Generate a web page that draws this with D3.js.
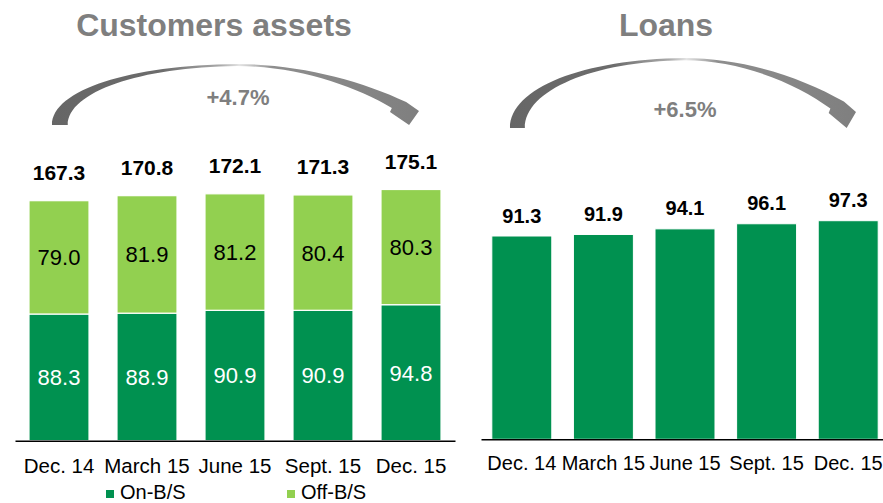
<!DOCTYPE html>
<html>
<head>
<meta charset="utf-8">
<script src="https://cdn.jsdelivr.net/npm/d3@7"></script>
<style>
  body { margin: 0; background: #fff; }
  svg { display: block; font-family: "Liberation Sans", Arial, sans-serif; }
</style>
</head>
<body>
<svg id="chart" width="883" height="503"></svg>
<script>
/********************************************************
 ********************* Data *****************************
 ********************************************************/
var categories = ["Dec. 14", "March 15", "June 15", "Sept. 15", "Dec. 15"];
var onBS = [88.3, 88.9, 90.9, 90.9, 94.8];
var offBS = [79.0, 81.9, 81.2, 80.4, 80.3];
var assetTotals = [167.3, 170.8, 172.1, 171.3, 175.1];
var loans = [91.3, 91.9, 94.1, 96.1, 97.3];
var seriesNames = ["On-B/S", "Off-B/S"];
var growthLabels = ["+4.7%", "+6.5%"];

var darkGreen = "#009150";
var lightGreen = "#92d050";
var grey = "#7f7f7f";

var svg = d3.select("#chart");

/********************************************************
 ********************* Arrow gradient *******************
 ********************************************************/
var grad = svg.append("defs").append("linearGradient")
  .attr("id", "arrowGrad")
  .attr("x1", "0").attr("x2", "1").attr("y1", "0").attr("y2", "0");
[[0, "#666"], [0.3, "#6c6c6c"], [0.46, "#aaa"], [0.51, "#e4e4e4"], [0.6, "#8e8e8e"], [1, "#7f7f7f"]]
  .forEach(function(s) {
    grad.append("stop").attr("offset", s[0]).attr("stop-color", s[1]);
  });

// curved arrow, drawn in unit space then stretched into the box
function arrowPath(x0, x1, yTop, yBase) {
  var sx = d3.scaleLinear().domain([0, 1]).range([x0, x1]);
  var sy = d3.scaleLinear().domain([0, 1]).range([yTop, yBase]);
  function p(u, v) { return sx(u) + "," + sy(v); }
  return "M" + p(0, 1) +
    "C" + p(0, 0.426) + " " + p(0.2125, 0.016) + " " + p(0.504, 0) +
    "C" + p(0.668, 0) + " " + p(0.839, 0.262) + " " + p(0.965, 0.623) +
    "L" + p(1, 0.77) +
    "L" + p(0.973, 1) +
    "L" + p(0.921, 0.787) +
    "L" + p(0.926, 0.721) +
    "C" + p(0.826, 0.361) + " " + p(0.668, 0.033) + " " + p(0.504, 0.033) +
    "C" + p(0.24, 0.049) + " " + p(0.043, 0.459) + " " + p(0.043, 1) +
    "Z";
}

/********************************************************
 ********************* Customers assets *****************
 ********************************************************/
var xL = d3.scaleBand().domain(categories).range([15, 455])
  .paddingInner(0.318).paddingOuter(0.159);
var yL = d3.scaleLinear().domain([0, 175.1]).range([440.7, 189.5]);

var assetRows = categories.map(function(c, i) {
  return { cat: c, "On-B/S": onBS[i], "Off-B/S": offBS[i], total: assetTotals[i] };
});
var stacked = d3.stack().keys(seriesNames)(assetRows);
var colorL = d3.scaleOrdinal().domain(seriesNames).range([darkGreen, lightGreen]);

var gL = svg.append("g");

gL.append("text")
  .attr("x", 214).attr("y", 36)
  .attr("text-anchor", "middle")
  .attr("font-size", 32).attr("font-weight", "bold")
  .attr("fill", grey)
  .text("Customers assets");

gL.append("path")
  .attr("d", arrowPath(52, 419, 64, 125))
  .attr("fill", "url(#arrowGrad)");

gL.append("text")
  .attr("x", 238).attr("y", 105)
  .attr("text-anchor", "middle")
  .attr("font-size", 22).attr("font-weight", "bold")
  .attr("fill", grey)
  .text(growthLabels[0]);

var layer = gL.selectAll(".layer")
  .data(stacked)
  .enter().append("g")
  .attr("class", "layer")
  .attr("fill", function(d) { return colorL(d.key); });

layer.selectAll("rect")
  .data(function(d) { return d; })
  .enter().append("rect")
  .attr("x", function(d) { return xL(d.data.cat); })
  .attr("y", function(d) { return yL(d[1]); })
  .attr("width", xL.bandwidth())
  .attr("height", function(d) { return yL(d[0]) - yL(d[1]); })
  .attr("stroke", "#fff")
  .attr("stroke-width", 1.2);

layer.selectAll(".seg")
  .data(function(d) { return d.map(function(v) { v.key = d.key; return v; }); })
  .enter().append("text")
  .attr("class", "seg")
  .attr("x", function(d) { return xL(d.data.cat) + xL.bandwidth() / 2; })
  .attr("y", function(d) { return (yL(d[0]) + yL(d[1])) / 2 + 8; })
  .attr("text-anchor", "middle")
  .attr("font-size", 22)
  .attr("fill", function(d) { return d.key == "On-B/S" ? "#fff" : "#000"; })
  .text(function(d) { return (d[1] - d[0]).toFixed(1); });

gL.selectAll(".total")
  .data(assetRows)
  .enter().append("text")
  .attr("class", "total")
  .attr("x", function(d) { return xL(d.cat) + xL.bandwidth() / 2; })
  .attr("y", function(d) { return yL(d.total) - 21; })
  .attr("text-anchor", "middle")
  .attr("font-size", 21).attr("font-weight", "bold")
  .attr("fill", "#000")
  .text(function(d) { return d.total.toFixed(1); });

var axisL = gL.append("g")
  .attr("transform", "translate(0,440.7)")
  .call(d3.axisBottom(xL).tickSize(0).tickPadding(0));
axisL.select(".domain").attr("stroke", "#000").attr("stroke-width", 1.5);
axisL.selectAll("text")
  .attr("y", 32).attr("dy", null)
  .attr("font-size", 20.5)
  .attr("font-family", "Liberation Sans, Arial, sans-serif")
  .attr("fill", "#000");

// legend
var legend = gL.selectAll(".legend")
  .data(seriesNames)
  .enter().append("g")
  .attr("class", "legend")
  .attr("transform", function(d, i) { return "translate(" + (106 + i * 181) + ",0)"; });
legend.append("rect")
  .attr("x", 0).attr("y", 490)
  .attr("width", 8).attr("height", 8)
  .attr("fill", function(d) { return colorL(d); });
legend.append("text")
  .attr("x", 14).attr("y", 499)
  .attr("font-size", 20)
  .attr("fill", "#000")
  .text(function(d) { return d; });

/********************************************************
 ********************* Loans ****************************
 ********************************************************/
var xR = d3.scaleBand().domain(categories).range([481, 889])
  .paddingInner(0.265).paddingOuter(0.1325);
var yR = d3.scaleLinear().domain([11.6, 97.3]).range([439.3, 220.7]);

var gR = svg.append("g");

gR.append("text")
  .attr("x", 666).attr("y", 36)
  .attr("text-anchor", "middle")
  .attr("font-size", 32).attr("font-weight", "bold")
  .attr("fill", grey)
  .text("Loans");

gR.append("path")
  .attr("d", arrowPath(510, 856, 58, 128))
  .attr("fill", "url(#arrowGrad)");

gR.append("text")
  .attr("x", 685).attr("y", 117)
  .attr("text-anchor", "middle")
  .attr("font-size", 22).attr("font-weight", "bold")
  .attr("fill", grey)
  .text(growthLabels[1]);

gR.selectAll(".bar")
  .data(loans)
  .enter().append("rect")
  .attr("class", "bar")
  .attr("x", function(d, i) { return xR(categories[i]); })
  .attr("y", function(d) { return yR(d); })
  .attr("width", xR.bandwidth())
  .attr("height", function(d) { return yR.range()[0] - yR(d); })
  .attr("fill", darkGreen)
  .attr("stroke", "#fff")
  .attr("stroke-width", 1);

gR.selectAll(".val")
  .data(loans)
  .enter().append("text")
  .attr("class", "val")
  .attr("x", function(d, i) { return xR(categories[i]) + xR.bandwidth() / 2; })
  .attr("y", function(d) { return yR(d) - 13.5; })
  .attr("text-anchor", "middle")
  .attr("font-size", 20).attr("font-weight", "bold")
  .attr("fill", "#000")
  .text(function(d) { return d.toFixed(1); });

var axisR = gR.append("g")
  .attr("transform", "translate(0,439.3)")
  .call(d3.axisBottom(xR).tickSize(0).tickPadding(0));
axisR.select(".domain").attr("stroke", "#000").attr("stroke-width", 1.5);
axisR.selectAll("text")
  .attr("y", 30.7).attr("dy", null)
  .attr("font-size", 20)
  .attr("font-family", "Liberation Sans, Arial, sans-serif")
  .attr("fill", "#000");
</script>
</body>
</html>
